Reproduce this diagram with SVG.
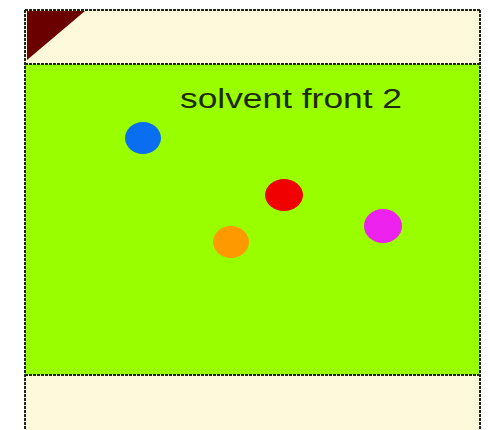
<svg xmlns="http://www.w3.org/2000/svg" width="490" height="430" viewBox="0 0 490 430">
<style>
.edge{stroke:#222;stroke-width:2;stroke-dasharray:3 1;fill:none}
.spot{stroke:none}
</style>
<rect width="490" height="430" fill="#ffffff"/>
<g id="plate">
<rect x="25" y="10" width="455" height="420" fill="#fff9dc"/>
<rect x="25" y="64" width="455" height="311" fill="#99ff00"/>
<polygon points="27,11 85,11 27,60" fill="#6b0000"/>
<line class="edge" x1="25" y1="10" x2="480" y2="10"/>
<line class="edge" x1="25" y1="10" x2="25" y2="430"/>
<line class="edge" x1="480" y1="10" x2="480" y2="430"/>
<line class="edge" x1="25" y1="64" x2="480" y2="64"/>
<line class="edge" x1="25" y1="375" x2="480" y2="375"/>
</g>
<g id="label">
<text x="180" y="108" font-family="Liberation Sans, Arial, sans-serif" font-size="27" fill="#1e2a10" textLength="222" lengthAdjust="spacingAndGlyphs">solvent front 2</text>
</g>
<g id="spot-blue"><ellipse class="spot" cx="143" cy="138" rx="18" ry="16" fill="#0a6ef0"/></g>
<g id="spot-red"><ellipse class="spot" cx="284" cy="195" rx="19" ry="16" fill="#f00000"/></g>
<g id="spot-orange"><ellipse class="spot" cx="231" cy="242" rx="18" ry="16" fill="#ff9900"/></g>
<g id="spot-magenta"><ellipse class="spot" cx="383" cy="226" rx="19" ry="17" fill="#ee22ee"/></g>
</svg>
